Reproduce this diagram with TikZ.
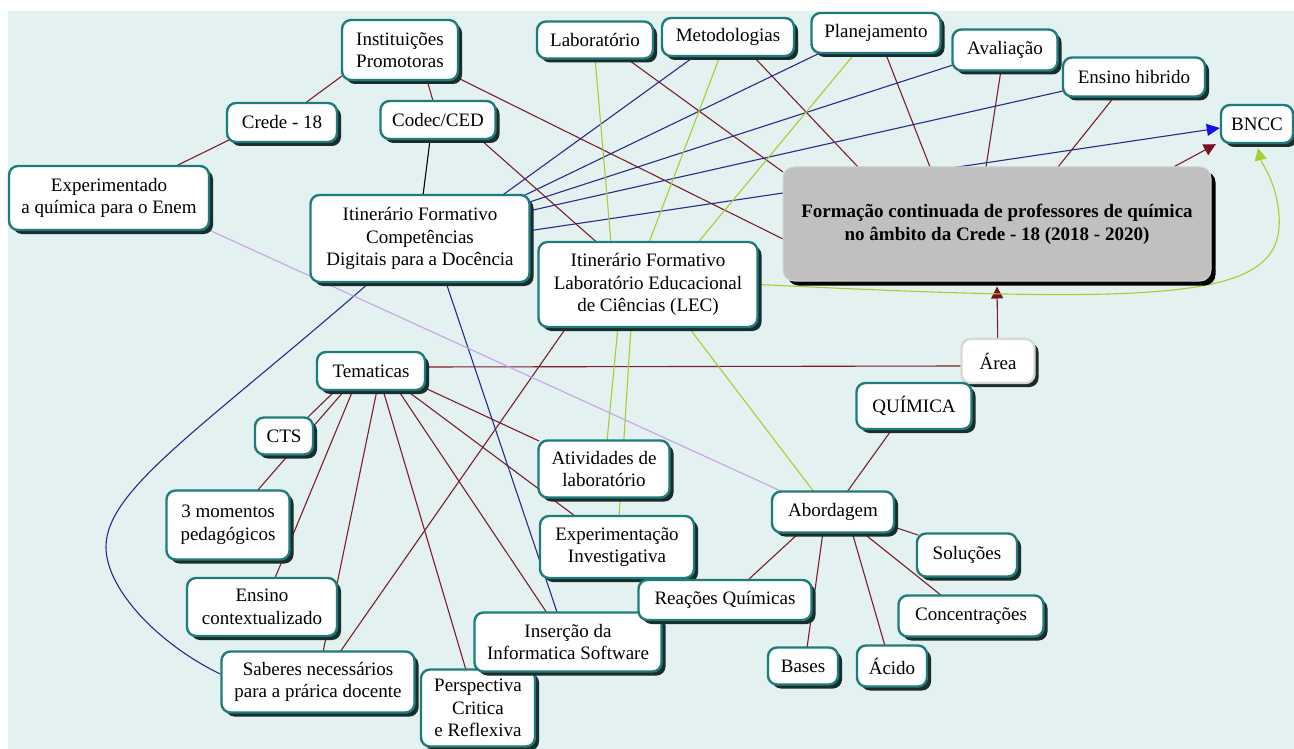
\documentclass[tikz,border=0pt]{standalone}
\usepackage{fontspec}
\setmainfont{Liberation Serif}
\usetikzlibrary{calc,shadows,arrows.meta}
\pgfdeclarelayer{bgl}
\pgfdeclarelayer{edgel}
\pgfsetlayers{bgl,edgel,main}
\definecolor{bgc}{HTML}{E3F1F0}
\definecolor{tealc}{HTML}{1F7C7C}
\definecolor{shadc}{HTML}{1A2C2C}
\definecolor{redc}{HTML}{7A1F2B}
\definecolor{redtip}{HTML}{7A1020}
\definecolor{bluec}{HTML}{2A2A8A}
\definecolor{bluetip}{HTML}{1010F0}
\definecolor{greenc}{HTML}{A6CF2E}
\definecolor{violetc}{HTML}{C9A2E6}
\definecolor{mainfill}{HTML}{C0C0C0}
\definecolor{mainline}{HTML}{D0D0D0}
\definecolor{arealine}{HTML}{D8D8D8}
\begin{document}
\begin{tikzpicture}[x=1pt,y=-1pt,
  cbox/.style={draw=tealc, line width=2.4pt, fill=white, rounded corners=9pt,
    align=center, inner sep=0pt, font=\fontsize{19}{22.5}\selectfont,
    drop shadow={shadow xshift=4pt, shadow yshift=-4pt, fill=shadc, opacity=1}},
  mainbox/.style={draw=mainline, line width=1pt, fill=mainfill, rounded corners=11pt,
    align=center, inner sep=0pt, font=\fontsize{19}{23}\selectfont\bfseries,
    drop shadow={shadow xshift=4.5pt, shadow yshift=-4.5pt, fill=black, opacity=1}},
  areabox/.style={cbox, draw=arealine},
  rl/.style={draw=redc, line width=1.1pt},
  bl/.style={draw=bluec, line width=1.1pt},
  gl/.style={draw=greenc, line width=1.1pt},
  vl/.style={draw=violetc, line width=1.1pt},
  kl/.style={draw=black, line width=1.1pt},
  grl/.style={draw=gray!60, line width=1.1pt}
]
\useasboundingbox (0,0) rectangle (1294,749);
\begin{pgfonlayer}{bgl}
\fill[white] (0,0) rectangle (1294,749);
\fill[bgc] (8,11) rectangle (1294,749);
\end{pgfonlayer}

% nodes
\node[cbox, minimum width=116pt, minimum height=60pt] (inst) at (400,50) {Instituições\\Promotoras};
\node[cbox, minimum width=110pt, minimum height=39pt] (crede) at (282,122.5) {Crede - 18};
\node[cbox, minimum width=115pt, minimum height=38pt] (codec) at (438,120) {Codec/CED};
\node[cbox, minimum width=200pt, minimum height=64pt] (exp) at (109,198) {Experimentado\\a química para o Enem};
\node[cbox, minimum width=219pt, minimum height=87pt] (comp) at (420,238.5) {Itinerário Formativo\\Competências\\Digitais para a Docência};
\node[cbox, minimum width=116pt, minimum height=37pt] (lab) at (595,40) {Laboratório};
\node[cbox, minimum width=132pt, minimum height=38pt] (met) at (728,37) {Metodologias};
\node[cbox, minimum width=129pt, minimum height=40pt] (plan) at (876,33) {Planejamento};
\node[cbox, minimum width=105pt, minimum height=41pt] (aval) at (1005,50) {Avaliação};
\node[cbox, minimum width=142pt, minimum height=39pt] (hib) at (1134,77) {Ensino hibrido};
\node[cbox, minimum width=72pt, minimum height=38pt] (bncc) at (1257,124) {BNCC};
\node[mainbox, minimum width=428pt, minimum height=114pt] (main) at (997,224) {Formação continuada de professores de química\\no âmbito da Crede - 18 (2018 - 2020)};
\node[cbox, minimum width=219pt, minimum height=85pt] (lec) at (648,284.5) {Itinerário Formativo\\Laboratório Educacional\\de Ciências (LEC)};
\node[cbox, minimum width=108pt, minimum height=38pt] (tem) at (371,371) {Tematicas};
\node[areabox, minimum width=73pt, minimum height=44pt] (area) at (998,361) {Área};
\node[cbox, minimum width=115pt, minimum height=46pt] (quim) at (914,406) {QUÍMICA};
\node[cbox, minimum width=58pt, minimum height=37pt] (cts) at (284,436) {CTS};
\node[cbox, minimum width=123pt, minimum height=69pt] (mom) at (228,525) {3 momentos\\pedagógicos};
\node[cbox, minimum width=150pt, minimum height=58pt] (ens) at (262,607) {Ensino\\contextualizado};
\node[cbox, minimum width=193pt, minimum height=61pt] (sab) at (318,682) {Saberes necessários\\para a prárica docente};
\node[cbox, minimum width=114pt, minimum height=77pt] (persp) at (478,708) {Perspectiva\\Critica\\e Reflexiva};
\node[cbox, minimum width=187pt, minimum height=59pt] (ins) at (568,642) {Inserção da\\Informatica Software};
\node[cbox, minimum width=131pt, minimum height=57pt] (ativ) at (604,469) {Atividades de\\laboratório};
\node[cbox, minimum width=154pt, minimum height=62pt] (expi) at (617,547) {Experimentação\\Investigativa};
\node[cbox, minimum width=122pt, minimum height=41pt] (abord) at (833,512) {Abordagem};
\node[cbox, minimum width=100pt, minimum height=43pt] (sol) at (967,555) {Soluções};
\node[cbox, minimum width=173pt, minimum height=40pt] (reac) at (725,600) {Reações Químicas};
\node[cbox, minimum width=145pt, minimum height=41pt] (conc) at (971,616) {Concentrações};
\node[cbox, minimum width=70pt, minimum height=37pt] (bases) at (803,666) {Bases};
\node[cbox, minimum width=70pt, minimum height=41pt] (acido) at (892,666) {Ácido};

\coordinate (bend) at (106,547);

\begin{pgfonlayer}{edgel}
% red connectors
\draw[rl] ($(inst)+(-58,26)$) -- ($(crede)+(24,-20)$);
\draw[rl] ($(inst)+(27,30)$) -- ($(codec)+(-5,-19)$);
\draw[rl] ($(inst)+(60,29)$) -- ($(main)+(-214,15)$);
\draw[rl] ($(crede)+(-52,17)$) -- ($(exp)+(67,-32)$);
\draw[rl] ($(codec)+(43,20)$) -- ($(lec)+(-51,-42)$);
\draw[rl] ($(lab)+(31,18)$) -- ($(main)+(-214,-52)$);
\draw[rl] ($(met)+(25,19)$) -- ($(main)+(-139,-57)$);
\draw[rl] ($(plan)+(9,19)$) -- ($(main)+(-67,-57)$);
\draw[rl] ($(aval)+(-4,20)$) -- ($(main)+(-11,-57)$);
\draw[rl] ($(hib)+(-19,19)$) -- ($(main)+(61,-57)$);
\draw[rl] ($(tem)+(54,-4)$) -- ($(area)+(-36,5)$);
\draw[grl] ($(area)+(-28,19)$) -- ($(quim)+(55,-22)$);
\draw[rl] ($(quim)+(-21,22)$) -- ($(abord)+(14,-20)$);
\draw[rl] ($(abord)+(61,15)$) -- ($(sol)+(-49,-20)$);
\draw[rl] ($(abord)+(29,20)$) -- ($(conc)+(-29,-20)$);
\draw[rl] ($(abord)+(19,20)$) -- ($(acido)+(-7,-20)$);
\draw[rl] ($(abord)+(-10,20)$) -- ($(bases)+(4,-18)$);
\draw[rl] ($(abord)+(-33,20)$) -- ($(reac)+(23,-20)$);
\draw[rl] ($(tem)+(-35,19)$) -- ($(cts)+(23,-18)$);
\draw[rl] ($(tem)+(-26,19)$) -- ($(mom)+(29,-34)$);
\draw[rl] ($(tem)+(-18,19)$) -- ($(ens)+(13,-29)$);
\draw[rl] ($(tem)+(6,19)$) -- ($(sab)+(5,-30)$);
\draw[rl] ($(tem)+(12,19)$) -- ($(persp)+(-12,-38)$);
\draw[rl] ($(tem)+(27,19)$) -- ($(ins)+(-21,-29)$);
\draw[rl] ($(tem)+(35,19)$) -- ($(expi)+(-42,-31)$);
\draw[rl] ($(tem)+(54,17)$) -- ($(ativ)+(-65,-28)$);
\draw[rl] ($(lec)+(-81,42)$) -- ($(sab)+(22,-30)$);
\draw[rl, -{Triangle[length=12pt,width=12pt,color=redtip]}] ($(main.north east)+(-37,0)$) -- ($(bncc.south west)+(-4,0)$);
\draw[rl, -{Triangle[length=12pt,width=12pt,color=redtip]}] (area) -- ($(main.south)+(0,5)$);
% black
\draw[kl] ($(codec)+(-8,20)$) -- ($(comp)+(3,-43)$);
% blue
\draw[bl] ($(comp)+(82,-43)$) -- ($(met)+(-33,19)$);
\draw[bl] ($(comp)+(100,-41)$) -- ($(plan)+(-54,19)$);
\draw[bl] ($(comp)+(108,-36)$) -- ($(aval)+(-52,15)$);
\draw[bl] ($(comp)+(111,-28)$) -- ($(hib)+(-71,14)$);
\draw[bl, -{Triangle[length=13pt,width=12pt,color=bluetip]}] ($(comp)+(111,-8)$) -- ($(bncc.west)+(0,4)$);
\draw[bl] ($(comp)+(26,44)$) -- ($(ins)+(-11,-30)$);
\draw[bl] (comp) .. controls (200,430) and (106,490) .. (bend) .. controls (106,590) and (160,645) .. ($(sab.west)+(0,-8)$);
% green
\draw[gl] ($(lab)+(0,18)$) -- ($(lec)+(-37,-42)$);
\draw[gl] ($(met)+(-8,19)$) -- ($(lec)+(1,-42)$);
\draw[gl] ($(plan)+(-20,19)$) -- ($(lec)+(50,-42)$);
\draw[gl] ($(lec)+(-30,42)$) -- ($(ativ)+(3,-28)$);
\draw[gl] ($(lec)+(-17,42)$) -- ($(expi)+(2,-30)$);
\draw[gl] ($(lec)+(40,42)$) -- ($(abord)+(-19,-20)$);
\draw[gl, -{Triangle[length=12pt,width=12pt,color=greenc]}] (lec.east) .. controls (1180,305) and (1285,300) .. (1279,215) .. controls (1276,180) and (1262,165) .. ($(bncc.south)+(1,4)$);
% violet
\draw[vl] ($(exp)+(100,32)$) -- ($(abord)+(-50,-20)$);
\end{pgfonlayer}
\end{tikzpicture}
\end{document}
